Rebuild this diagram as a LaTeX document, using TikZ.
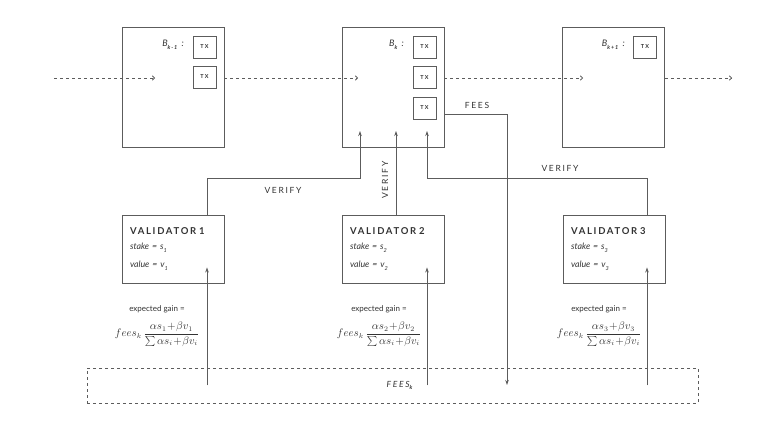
\documentclass[tikz,border=0pt]{standalone}
\usepackage{fontspec}
\setmainfont{Lato}
\newfontfamily\spaced[LetterSpace=20]{Lato}
\newfontfamily\valfont[LetterSpace=18]{Lato}
\usetikzlibrary{arrows.meta,calc}

\definecolor{linegray}{HTML}{5C5C5C}
\definecolor{textgray}{HTML}{333333}
\newcommand{\lowsub}[1]{\raisebox{-0.55ex}{\fontsize{5.5}{6}\selectfont #1}}
\newcommand{\gainfrac}[1]{{\fontsize{10.5}{12}\selectfont
  $\displaystyle fees_k\,\frac{\alpha s_{#1}\!+\!\beta v_{#1}}{\sum\alpha s_i\!+\!\beta v_i}$}}

\tikzset{
  block/.style={draw=linegray, line width=0.9pt, minimum width=102pt, minimum height=120pt, inner sep=0pt},
  txbox/.style={draw=linegray, line width=0.9pt, minimum width=23pt, minimum height=22pt, inner sep=0pt,
    text=textgray, font=\bfseries\fontsize{5.5}{6}\spaced},
  blabel/.style={anchor=east, text=textgray, font=\itshape\fontsize{9}{10}\selectfont, inner sep=0pt},
  validator/.style={draw=linegray, line width=0.9pt, minimum width=102pt, minimum height=68pt, inner sep=0pt,
    text width=86pt, align=left, text=textgray, font=\fontsize{8.8}{18}\selectfont},
  gain/.style={align=center, text=textgray, font=\fontsize{8}{10}\selectfont, inner sep=0pt},
  caption/.style={text=textgray, font=\fontsize{8.5}{10}\spaced, inner sep=1pt},
  chain/.style={linegray, line width=0.8pt, dash pattern=on 3pt off 3pt, -{To[length=3pt,width=5pt]}},
  flow/.style={linegray, line width=0.9pt, -{Stealth[length=5pt,width=3.5pt]}},
}

\begin{document}
\begin{tikzpicture}[x=1pt, y=-1pt]
    \useasboundingbox (0,0) rectangle (768,441);

    % Bloecke
    \node[block] (bprev) at (173,87) {};
    \node[block] (bcur) at (393,87) {};
    \node[block] (bnext) at (613.5,87) {};
    \node[blabel] (lprev) at (184,45) {B\lowsub{\bfseries k\,-\,1}\ \ :};
    \node[blabel] (lcur) at (404,45) {B\lowsub{\bfseries k}\ \ :};
    \node[blabel] (lnext) at (625,45) {B\lowsub{\bfseries k\,+\,1}\ \ :};

    % Transaktionen
    \node[txbox] (txa) at (204.5,47) {TX};
    \node[txbox] (txb) at (204.5,77) {TX};
    \node[txbox] (txc) at (424.5,47) {TX};
    \node[txbox] (txd) at (424.5,77.5) {TX};
    \node[txbox] (txe) at (424.5,108) {TX};
    \node[txbox] (txf) at (645,47) {TX};

    % Kette
    \coordinate (chainin) at (54,78);
    \coordinate (chainout) at (732,78);
    \coordinate (tipprev) at (155,78);
    \coordinate (tipcur) at (358,78);
    \coordinate (tipnext) at (583,78);
    \draw[chain] (chainin) -- (tipprev);
    \draw[chain] (bprev.east |- chainin) -- (tipcur);
    \draw[chain] (bcur.east |- chainin) -- (tipnext);
    \draw[chain] (bnext.east |- chainin) -- (chainout);

    % Validatoren
    \node[validator] (val1) at (173,249) {{\bfseries\valfont\fontsize{9.5}{10}\selectfont VALIDATOR 1}\\[-3pt]
      {\itshape stake = s\lowsub{1}}\\ {\itshape value = v\lowsub{1}}};
    \node[validator] (val2) at (393,249) {{\bfseries\valfont\fontsize{9.5}{10}\selectfont VALIDATOR 2}\\[-3pt]
      {\itshape stake = s\lowsub{2}}\\ {\itshape value = v\lowsub{2}}};
    \node[validator] (val3) at (614,249) {{\bfseries\valfont\fontsize{9.5}{10}\selectfont VALIDATOR 3}\\[-3pt]
      {\itshape stake = s\lowsub{3}}\\ {\itshape value = v\lowsub{3}}};

    % Erwarteter Gewinn
    \node[gain] (gain1) at (157,326) {expected gain =\\[8pt] \gainfrac{1}};
    \node[gain] (gain2) at (379,326) {expected gain =\\[8pt] \gainfrac{2}};
    \node[gain] (gain3) at (599,326) {expected gain =\\[8pt] \gainfrac{3}};

    % Gebuehren-Topf
    \node[draw=linegray, line width=0.8pt, dash pattern=on 3pt off 3pt, minimum width=611pt, minimum height=35pt,
      text=textgray, font=\itshape\fontsize{8.5}{10}\spaced] (pool) at (392.5,385.5) {\hspace{14pt}FEES\lowsub{\bfseries k}};

    % Verify
    \coordinate (tipa) at (360,131);
    \coordinate (tipb) at (396,131);
    \coordinate (tipc) at (427,131);
    \draw[flow] ($(val1.north)+(34,0)$) -- ++(0,-36) -| (tipa);
    \draw[flow] ($(val2.north)+(3,0)$) -- (tipb);
    \draw[flow] ($(val3.north)+(33,0)$) -- ++(0,-36) -| (tipc);
    \node[caption] (verifya) at (283,190) {VERIFY};
    \node[caption, rotate=90] (verifyb) at (385,180) {VERIFY};
    \node[caption] (verifyc) at (560,168) {VERIFY};

    % Gebuehren
    \coordinate (feestip) at (507,385);
    \draw[flow] ($(bcur.east)+(0,27)$) -| (feestip);
    \node[caption] (fees) at (477,105) {FEES};

    % Einsatz
    \draw[flow] ($(val1.south)+(34,102)$) -- ($(val1.south)+(34,-16)$);
    \draw[flow] ($(val2.south)+(34,102)$) -- ($(val2.south)+(34,-16)$);
    \draw[flow] ($(val3.south)+(33,102)$) -- ($(val3.south)+(33,-16)$);
\end{tikzpicture}
\end{document}
